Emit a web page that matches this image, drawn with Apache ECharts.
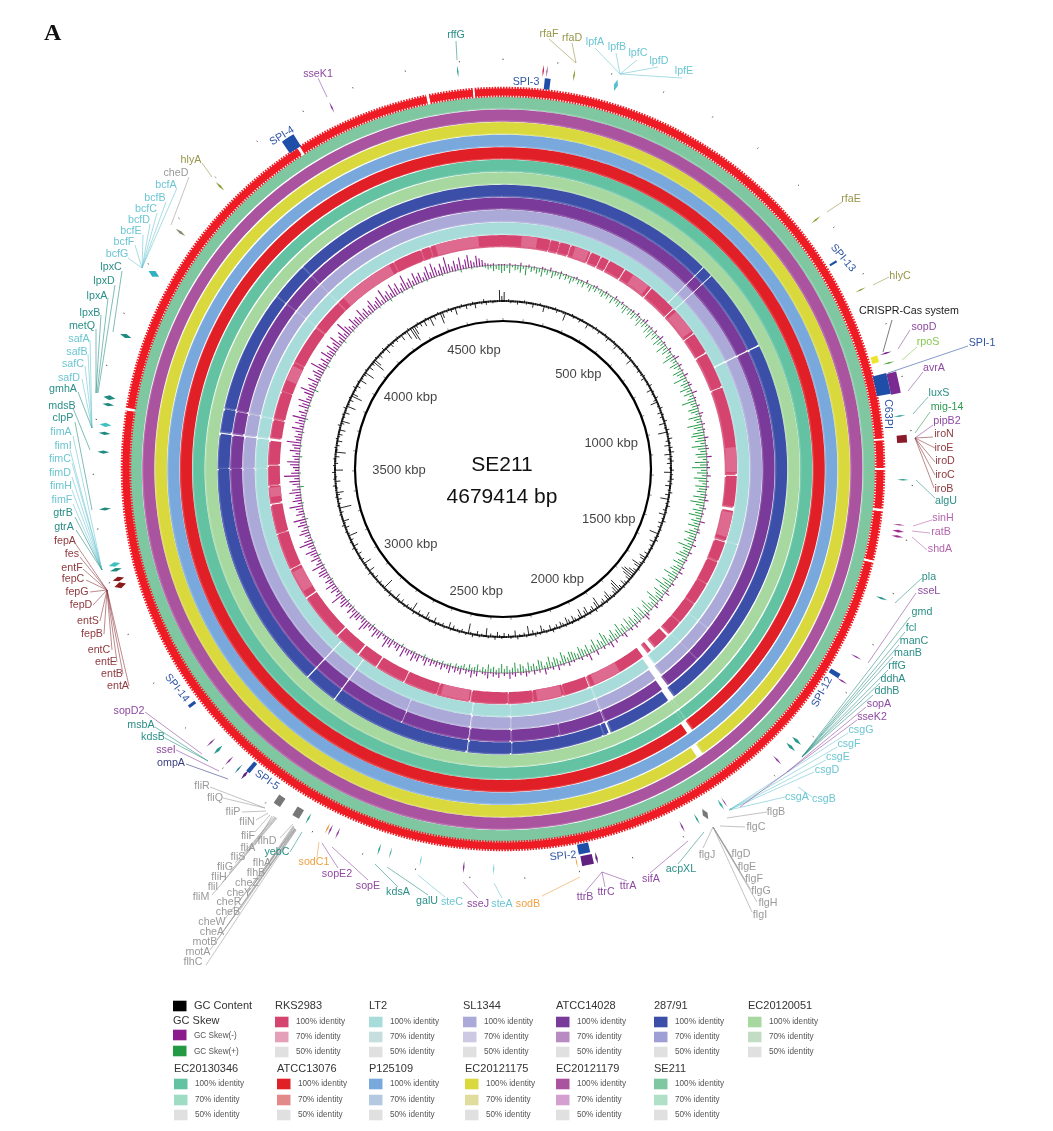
<!DOCTYPE html>
<html><head><meta charset="utf-8">
<style>html,body{margin:0;padding:0;background:#fff}#c{width:1053px;height:1131px;filter:blur(0.35px)}</style>
<script src="https://cdn.jsdelivr.net/npm/echarts@6/dist/echarts.min.js"></script>
</head><body><div id="c"></div>
<script>
const genomeKbp = 4679.414;
const tickKbp = [500,1000,1500,2000,2500,3000,3500,4000,4500];
const tickLabelRadius = [121,111,117,123,125,119,104,117,122];

const ringNames = ['SE211','EC20121179','EC20121175','P125109','ATCC13076','EC20130346','EC20120051','287/91','ATCC14028','SL1344','LT2','RKS2983'];
const ring100 = ['#7fc7a0','#aa539e','#d9d83c','#78a8dc','#e11f26','#63c2a2','#a6d8a0','#3c4fa8','#7a3a9a','#aba9d8','#a8dcdb','#d5446f'];
const ring70 = ['#b0e0c8','#d3a0d0','#dfdc9e','#b4c8e0','#e28a8a','#9edcc4','#c2ddc4','#9f9fd6','#b88bc3','#cdc9e2','#c6dedd','#e3a0b8'];

// white (no hit) regions, kbp
const gapsRedCds = [[1110,1114],[1168,1172],[1248,1253],[1350,1355],[3624,3630],[4255,4261],[4528,4534],[4620,4624]];
const gapsEC20121175 = [[1880,1898]];
const gapsATCC13076 = [[1868,1886]];
const gapsEC20130346 = [[1868,1872],[1878,1880]];
const gapsEC20120051 = [[1866,1869],[1875,1877]];
const gapsInnerShared = [[581,584],[611,614],[832,837],[2050,2056],[2314,2318],[2430,2435],[2808,2812],[2899,2903],[3510,3513],[3602,3609],[3668,3673],[3993,3997],[4096,4100]];
const gaps28791 = [[1855,1878],[2046,2050],[2067,2071]];
const gapsATCC14028 = [[1850,1874],[1745,1749],[2180,2183],[2620,2623]];
const gapsSL1344 = [[1846,1872],[1745,1748],[1660,1664],[2620,2623]];
const gapsLT2 = [[1842,1868],[1745,1748],[1660,1664],[1400,1404]];
const gapsRKS2983 = [[152,155],[182,185],[218,222],[286,290],[321,325],[350,354],[407,411],[510,514],[606,610],[708,712],[780,785],[900,905],[1185,1192],[1290,1304],[1400,1408],[1470,1476],[1550,1554],[1625,1630],[1700,1704],[1748,1762],[1810,1830],[1838,1862],[2052,2060],[2140,2144],[2240,2244],[2320,2324],[2440,2445],[2550,2553],[2660,2664],[2760,2765],[2830,2836],[2920,2925],[3075,3080],[3180,3184],[3300,3304],[3395,3402],[3455,3460],[3520,3526],[3600,3612],[3668,3674],[3760,3764],[3860,3864],[3990,3996],[4095,4100],[4315,4319],[4410,4414],[4441,4445]];
const lightRKS2983 = [[60,110],[235,280],[440,500],[620,700],[1100,1180],[1310,1390],[1950,2040],[2150,2230],[2450,2540],[3100,3170],[3420,3450],[3800,3850],[4120,4300],[4460,4600]];

// GC content deviation from the baseline, one value per 10 kbp window
const gcContent = [9,-1,2,-2,1,-1,-3,1,-1,2,-2,-1,1,-4,1,-1,2,-1,-6,1,-2,1,-1,2,-3,-1,1,-2,-8,1,-1,2,-2,1,-1,-3,2,-1,1,-5,-1,1,-2,2,-1,-3,1,-1,2,-2,-4,1,
-1,2,-2,-5,1,-1,2,-3,1,-2,-1,2,-6,1,-1,-2,2,-1,-3,1,-2,2,-4,-1,1,-2,3,-1,-5,2,-2,-1,3,-3,-7,1,-2,3,-1,-4,2,-3,-1,3,-6,1,-2,3,-9,2,-1,4,
-3,2,-5,3,-2,4,-6,2,-3,3,-4,1,-2,3,-7,2,-1,3,-3,2,-5,1,-2,3,-4,1,-8,2,-2,3,-1,-3,2,-6,1,-2,3,-4,1,-3,2,-1,-9,2,-2,3,-5,1,-3,2,-2,1,
-4,2,-7,-5,2,-3,-10,-6,2,-4,-8,-12,-14,-10,-5,2,-3,-6,2,-4,-13,-11,-7,-4,2,-3,-9,-6,2,-5,-3,2,-11,-7,3,-5,-3,2,-8,-5,2,-9,-4,2,-3,-6,2,-4,-7,2,-3,-5,
2,-4,-2,3,-5,-1,2,-3,-7,2,-2,3,-4,-1,-9,2,-3,1,-2,3,-6,-1,2,-3,1,-4,2,-2,-5,3,-1,-3,2,-8,1,-2,2,-4,-1,3,-2,-10,2,-1,-3,2,-2,1,-4,2,-6,-1,
2,-3,1,-2,3,-5,-1,2,-3,-7,1,-2,2,-4,-1,3,-9,-2,1,-3,2,-1,-4,2,-2,-6,1,-1,3,-3,-1,2,-11,-2,1,-3,2,-1,-4,1,-2,3,-6,-1,2,-2,-8,1,-3,2,-1,-4,
1,-2,3,-5,-1,2,-3,1,-9,-2,2,-1,-4,3,-2,-6,1,-1,2,-3,-1,-12,2,-2,1,-4,2,-3,-7,1,-2,3,-1,-5,2,-2,-1,3,-8,-1,2,-3,-1,2,-4,1,-10,-2,2,-3,1,-5,
2,-2,-4,1,-6,-1,3,-3,-8,1,-2,2,-5,-1,3,-9,-2,1,-4,2,-11,-6,1,-2,3,-4,-1,2,-7,-2,1,-3,-10,2,-1,-5,1,-3,-13,-8,2,-2,-4,1,-2,3,-6,-1,2,-4,-2,1,
-3,2,-1,-6,1,-2,-9,2,-12,-15,-9,-3,2,-4,-1,-6,2,-2,-9,1,-4,-1,2,-11,-6,1,-2,2,-3,-1,-7,1,-2,2,-1,-4,1,-2,2,-5,-1,1,-2,3,-3,-1,1,-2,-1,1,11,5];
const gcSkewMinus = [1,0,2,0,1,0,3,0,1,2,0,1,0,0,2,1,0,3,0,1,0,2,0,1,0,0,1,2,0,1,0,3,0,0,1,2,0,1,0,2,1,0,0,3,1,0,2,0,1,0,1,2,
0,3,1,0,2,4,0,1,2,0,3,0,1,4,0,2,1,0,3,1,0,2,5,0,1,3,0,2,0,4,1,0,2,3,0,1,5,0,2,1,0,3,1,0,4,2,0,1,3,0,2,1,
0,4,1,0,2,3,0,1,5,0,2,1,3,0,1,4,0,2,0,3,1,0,2,1,4,0,1,3,0,2,1,0,5,1,0,2,3,0,1,2,0,4,1,0,3,1,0,2,1,0,3,1,
4,0,2,1,0,3,1,0,2,5,0,1,3,0,2,4,0,1,0,3,6,1,0,2,1,4,0,3,1,0,5,2,0,1,4,0,6,2,0,3,1,0,5,1,0,7,2,0,3,1,0,2,
1,4,0,2,1,5,0,3,1,2,6,0,3,1,4,0,2,5,1,3,0,4,2,6,1,3,0,5,2,4,1,6,3,2,0,5,3,7,2,4,1,6,3,5,2,7,4,3,6,2,5,3,
6,3,8,4,2,7,5,9,3,6,4,10,2,7,5,3,8,6,11,4,2,7,5,9,3,6,4,8,12,5,3,7,6,10,4,8,3,5,9,7,4,13,6,3,8,5,10,4,7,3,6,9,
8,4,12,6,3,9,5,7,11,4,6,14,8,3,5,10,7,4,9,6,12,3,8,5,7,13,4,9,6,5,11,8,3,7,10,5,15,8,4,6,9,12,5,7,4,10,6,8,14,5,7,4,
7,11,4,9,6,13,5,8,3,10,7,12,5,4,9,14,6,8,5,11,4,7,10,6,15,8,5,9,4,12,7,6,11,5,8,13,4,7,10,5,16,9,6,4,11,7,8,5,12,6,9,4,
8,12,5,7,10,4,14,6,9,5,13,7,11,4,8,15,6,9,5,12,7,10,4,8,13,6,14,9,5,11,7,16,8,5,10,6,12,4,9,13,7,5,11,8,6,3,2,1,2,0,1,1];
const gcSkewPlus = [6,3,8,2,5,4,7,3,9,2,5,3,6,4,8,3,5,2,7,4,3,6,2,5,3,7,4,2,5,3,6,2,4,7,3,5,2,4,6,3,5,2,7,3,4,6,2,5,8,3,6,4,
7,3,5,9,4,6,3,8,5,10,4,7,3,9,6,4,11,5,8,3,7,12,5,4,9,6,3,10,7,5,13,4,8,6,11,5,9,4,7,14,6,5,10,8,4,12,7,5,15,9,6,11,
13,7,10,5,14,8,6,11,9,4,12,7,15,6,10,5,13,8,4,11,7,9,5,12,6,14,8,4,10,7,13,5,9,6,11,4,8,12,6,7,10,5,14,8,6,9,12,4,7,11,5,8,
10,6,14,8,5,11,7,16,9,4,12,8,6,15,10,5,7,13,9,4,11,6,14,8,5,10,7,12,4,9,6,13,8,5,11,7,4,10,14,6,9,5,12,7,4,10,6,8,11,5,7,9,
10,5,8,12,4,7,9,5,11,6,3,8,10,4,7,5,9,3,6,8,4,10,5,3,7,4,9,5,3,6,4,8,3,5,2,7,4,3,6,2,5,3,2,4,1,3,2,1,3,1,2,1,
2,0,1,3,0,1,0,2,1,0,0,1,3,0,1,0,2,0,1,0,1,2,0,0,1,3,0,1,0,1,2,0,1,0,0,2,1,0,3,0,1,0,2,0,1,0,0,1,2,0,1,0,
1,0,2,0,1,0,3,0,0,1,0,2,1,0,1,0,0,2,0,1,3,0,1,0,0,1,2,0,0,1,0,1,4,0,1,0,0,2,0,1,0,1,0,3,0,1,0,2,0,0,1,0,
2,0,1,0,1,3,0,0,1,0,2,0,1,0,1,0,4,0,1,0,2,0,0,1,0,1,3,0,1,0,0,2,0,1,0,1,0,3,0,0,1,0,2,0,1,0,1,0,0,2,0,1,
1,0,0,2,0,1,0,1,3,0,1,0,0,2,0,1,0,3,0,1,0,1,0,2,0,0,1,0,1,2,0,1,0,0,1,0,3,0,1,0,2,0,1,0,1,2,4,3,6,4,5,8];

// gene marks: [kbp position, extent in kbp, colour]
const geneMarks = [[4595,3,'#3aa89a'],[4350,3,'#8a3a9a'],[75,3,'#c03050'],[82,2,'#a03080'],[133,3,'#8a9a30'],[213,8,'#56c0d0'],
[4094,4,'#8a9a30'],[3981,5,'#8a8a70'],[3889,12,'#30b0c0'],[3762,8,'#1f8a80'],[3643,9,'#1f8a80'],[3630,6,'#1f8a80'],[3592,8,'#40c0c0'],[3576,6,'#1f8a80'],[3541,6,'#1f8a80'],[3435,6,'#1f8a80'],[3330,9,'#40c0c0'],[3320,7,'#1f8a80'],[3302,9,'#8b1a1a'],[3290,12,'#8b1a1a'],
[2949,3,'#8a3a9a'],[2930,6,'#2a9a90'],[2901,3,'#8a3a9a'],[2878,3,'#2a7a90'],[2862,5,'#602080'],[2781,14,'#777777'],[2740,14,'#777777'],[2718,3,'#2a9a90'],[2678,3,'#e89a30'],[2672,3,'#8a3a9a'],[2657,3,'#8a3a9a'],[2574,3,'#2a9a90'],[2552,2,'#2a9a90'],[2494,2,'#60c8d0'],
[2413,3,'#8a3a9a'],[2357,2,'#60c8d0'],[2202,2,'#f0a030'],[2182,22,'#602080'],[2164,4,'#602080'],[1994,3,'#8a3a9a'],[1963,3,'#2a9a90'],[1945,10,'#777777'],[1911,4,'#30b0a0'],[1903,2,'#8a3a9a'],
[1777,3,'#8a3a9a'],[1742,6,'#2a9a90'],[1726,6,'#2a9a90'],[1586,3,'#8a3a9a'],[1534,3,'#8a3a9a'],[1415,4,'#2a9a90'],[1274,3,'#b050a0'],[1286,5,'#a03090'],[1296,4,'#a03090'],[1190,3,'#2a9a90'],[1114,14,'#8b1a2a'],[1071,3,'#2a9a90'],[1009,40,'#7a2a90'],[970,3,'#50a030'],[951,3,'#7a2a90'],[824,3,'#8a9a30'],[669,3,'#8a9a30']];
// pathogenicity island blocks: [kbp position, extent in kbp, inner radius, outer radius]
const islandBlocks = [[85,11,382,393],[4250,26,381,395],[3027,6,386,394],[2861,8,384,396],[2184,22,383,393],[1581,9,384,395],[1007,40,381,395],[755,4,385,393]];
const crisprBlock = [[957,13,384,391]];

const colr = {gray:'#9a9a9a',cyan:'#6cc6d2',teal:'#2a8f86',red:'#8f3a3f',purple:'#8e4aa0',blue:'#2f55a5',olive:'#97954a',orange:'#f0a040',pink:'#b565ae',green:'#2f9a50',lime:'#86c850',dark:'#3a3f80',black:'#222222'};
// label text, centre x, centre y, colour, leader x1, y1, x2, y2
const annotations = [
['sseK1',318,74,'purple',318,78,327,97],['rffG',456,35,'teal',456,41,457,60],['rfaF',549,34,'olive',549,39,576,63],['rfaD',572,38,'olive',572,43,576,63],
['lpfA',595,42,'cyan',595,48,620,74],['lpfB',617,47,'cyan',616,53,620,74],['lpfC',638,53,'cyan',637,60,620,74],['lpfD',659,61,'cyan',658,67,620,74],['lpfE',684,71,'cyan',682,78,620,74],
['hlyA',191,160,'olive',202,163,212,177],['cheD',176,173,'gray',189,177,171,225],
['bcfA',166,185,'cyan',177,188,142,268],['bcfB',155,198,'cyan',166,202,142,268],['bcfC',146,209,'cyan',157,213,142,268],['bcfD',139,220,'cyan',150,224,142,268],['bcfE',131,231,'cyan',143,235,142,268],['bcfF',124,242,'cyan',135,245,142,268],['bcfG',117,254,'cyan',128,258,142,268],
['lpxC',111,267,'teal',122,271,113,332],['lpxD',104,281,'teal',115,285,98,393],['lpxA',97,296,'teal',108,298,97,393],['lpxB',90,313,'teal',101,315,96,393],['metQ',82,326,'teal',96,329,96,393],
['safA',79,339,'cyan',90,340,92,428],['safB',77,352,'cyan',88,354,92,428],['safC',73,364,'cyan',85,366,92,428],['safD',69,378,'cyan',82,379,92,428],['gmhA',63,389,'teal',78,392,92,428],['mdsB',62,406,'teal',73,408,90,450],['clpP',63,418,'teal',75,422,92,510],
['fimA',61,432,'cyan',73,436,102,570],['fimI',63,446,'cyan',70,450,102,570],['fimC',60,459,'cyan',72,463,102,570],['fimD',60,473,'cyan',72,477,102,570],['fimH',61,486,'cyan',72,490,102,570],['fimF',62,500,'cyan',73,504,102,570],['gtrB',63,513,'teal',75,517,102,570],['gtrA',64,527,'teal',76,530,102,570],
['fepA',65,541,'red',75,543,107,590],['fes',72,554,'red',80,557,107,590],['entF',72,568,'red',83,569,107,590],['fepC',73,579,'red',86,580,107,590],['fepG',77,592,'red',90,592,107,590],['fepD',81,605,'red',93,605,107,590],['entS',88,621,'red',100,621,107,590],['fepB',92,634,'red',104,634,107,590],['entC',99,650,'red',112,650,107,590],['entE',106,662,'red',117,662,107,590],['entB',112,674,'red',123,674,107,590],['entA',118,686,'red',129,686,107,590],
['sopD2',129,711,'purple',145,712,202,754],['msbA',141,725,'teal',155,727,208,761],['kdsB',153,737,'teal',165,738,208,761],['sseI',166,750,'purple',176,750,219,771],['ompA',171,763,'dark',186,764,228,779],
['fliR',202,786,'gray',210,787,265,808],['fliQ',215,798,'gray',223,798,265,808],['fliP',233,812,'gray',242,812,266,811],['fliN',247,822,'gray',256,820,268,813],['fliF',248,836,'gray',255,832,270,815],['fliA',248,848,'gray',255,845,272,816],['fliS',238,857,'gray',246,853,274,816],['fliG',225,867,'gray',235,863,275,817],['fliH',219,877,'gray',229,873,276,817],['fliI',213,887,'gray',222,883,276,818],['fliM',201,897,'gray',212,895,277,818],
['flhD',267,841,'gray',280,838,293,824],['flhA',262,863,'gray',270,860,293,826],['flhB',256,873,'gray',264,870,294,826],['cheZ',247,883,'gray',258,880,294,827],['cheY',239,893,'gray',250,890,294,828],['cheR',229,902,'gray',240,900,295,828],['cheB',228,912,'gray',240,910,295,829],['cheW',212,922,'gray',224,920,295,829],['cheA',212,932,'gray',224,930,295,829],['motB',205,942,'gray',217,940,296,829],['motA',198,952,'gray',210,950,296,830],['flhC',193,962,'gray',206,965,296,830],
['yebC',277,852,'teal',290,852,302,832],['sodC1',314,862,'orange',317,857,319,842],['sopE2',337,874,'purple',338,868,322,843],['sopE',368,886,'purple',368,880,332,847],['kdsA',398,892,'teal',398,887,375,864],['galU',427,901,'teal',428,895,387,867],['steC',452,902,'cyan',445,897,418,875],['sseJ',478,904,'purple',478,898,463,882],['steA',502,904,'cyan',502,898,494,883],['sodB',528,904,'orange',542,896,580,877],
['ttrB',585,897,'purple',585,892,602,872],['ttrC',606,892,'purple',605,887,602,872],['ttrA',628,886,'purple',627,881,602,872],['sifA',651,879,'purple',650,873,688,841],['acpXL',681,869,'teal',678,864,704,832],['flgJ',707,855,'gray',703,848,713,827],
['flgD',741,854,'gray',732,857,713,827],['flgE',747,867,'gray',738,868,713,827],['flgF',754,879,'gray',745,880,713,827],['flgG',761,891,'gray',751,890,713,827],['flgH',768,903,'gray',757,902,713,827],['flgI',760,915,'gray',752,912,713,827],['flgB',776,812,'gray',767,812,727,818],['flgC',756,827,'gray',745,827,720,826],
['csgA',797,797,'cyan',785,797,729,810],['csgB',824,799,'cyan',812,797,798,787],['csgD',827,770,'cyan',814,772,729,810],['csgE',838,757,'cyan',826,760,729,810],['csgF',849,744,'cyan',837,747,729,810],['csgG',861,730,'cyan',848,733,729,810],
['sseK2',872,717,'purple',857,720,740,807],['sopA',879,704,'purple',866,707,787,772],['ddhB',887,691,'teal',873,695,802,757],['ddhA',893,679,'teal',880,683,802,757],['rffG',897,666,'teal',888,670,802,757],['manB',908,653,'teal',893,657,802,757],['manC',914,641,'teal',899,645,802,757],['fcl',911,628,'teal',905,632,802,757],['gmd',922,612,'teal',910,617,802,757],['sseL',929,591,'purple',916,593,868,663],['pla',929,577,'teal',922,578,895,603],
['rfaE',851,199,'olive',842,202,827,212],['hlyC',900,276,'olive',889,277,873,285],['CRISPR-Cas system',909,311,'black',892,320,883,352],['sopD',924,327,'purple',910,330,898,349],['rpoS',928,342,'lime',917,347,902,360],['SPI-1',982,343,'blue',968,346,888,373],['avrA',934,368,'purple',923,372,908,391],
['luxS',939,393,'teal',928,397,913,414],['mig-14',947,407,'green',930,412,915,433],['pipB2',947,421,'purple',933,425,915,438],['iroN',944,434,'red',933,437,915,438],['iroE',944,448,'red',935,448,915,438],['iroD',945,461,'red',935,462,915,438],['iroC',945,475,'red',935,475,915,438],['iroB',944,489,'red',934,488,915,438],['algU',946,501,'teal',935,498,916,480],['sinH',943,518,'pink',932,520,913,526],['ratB',941,532,'pink',930,533,912,531],['shdA',940,549,'pink',927,550,912,537]];
// rotated island names: text, x, y, degrees clockwise
const islandLabels = [['SPI-3',526,82,0],['SPI-4',282,136,-32],['SPI-14',177,688,52],['SPI-5',267,780,35],['SPI-2',563,856,-6],['SPI-12',822,692,-62],['SPI-13',843,258,50],['C63PI',888,414,90]];

const legendRow1 = ['RKS2983','LT2','SL1344','ATCC14028','287/91','EC20120051'];
const legendRow2 = ['EC20130346','ATCC13076','P125109','EC20121175','EC20121179','SE211'];
const legendX1 = [275,369,463,556,654,748];
const legendX2 = [174,277,369,465,556,654];

const cx = 503, cy = 469;
const ringOuter = 372, ringStep = 12.55, ringWidth = 10.8;

function arc(api, r, a0, a1){
  const n = Math.max(1, Math.ceil(Math.abs(a1-a0)/10)), pts = [];
  for(let i=0;i<=n;i++) pts.push(api.coord([r, a0+(a1-a0)*i/n]));
  return pts;
}
function band(api, rIn, rOut, a0, a1){
  return arc(api, rOut, a0, a1).concat(arc(api, rIn, a1, a0));
}
function complement(gaps){
  const g = gaps.slice().sort((p,q)=>p[0]-q[0]), out = [];
  let s = 0;
  g.forEach(x=>{ if(x[0]>s) out.push([s,x[0]]); s = Math.max(s,x[1]); });
  if(s<genomeKbp) out.push([s,genomeKbp]);
  return out;
}
const ringGaps = [[],[],gapsEC20121175,[],gapsATCC13076,gapsEC20130346,gapsEC20120051,
  gaps28791.concat(gapsInnerShared),gapsATCC14028.concat(gapsInnerShared),gapsSL1344.concat(gapsInnerShared),gapsLT2.concat(gapsInnerShared),gapsRKS2983];
const ringSegs = [];
ringNames.forEach((n,i)=>{
  complement(ringGaps[i]).forEach(s=>ringSegs.push({i, a0:s[0], a1:s[1]}));
});
// light pink blocks, clipped to the parts of the ring that have hits
const lightSegs = [];
lightRKS2983.forEach(l=>{
  complement(gapsRKS2983).forEach(s=>{
    const a0 = Math.max(l[0],s[0]), a1 = Math.min(l[1],s[1]);
    if(a1>a0) lightSegs.push({a0,a1});
  });
});

function polarCustom(name, rows, render, z){
  return {type:'custom', name, coordinateSystem:'polar', polarIndex:1, clip:false, silent:true, z:z||2,
    animation:false, data:rows.map((r,i)=>[0,i]), renderItem:(p,api)=>render(rows[p.dataIndex],api,p.dataIndex)};
}
const binKbp = genomeKbp/gcContent.length;
const spike = (base, color, width, sign, baseColor, baseWidth) => (v,api,i)=>{
  const a = (i+0.5)*binKbp, p0 = api.coord([base,a]), p1 = api.coord([base+sign*v,a]);
  const kids = [{type:'line', shape:{x1:p0[0],y1:p0[1],x2:p1[0],y2:p1[1]}, style:{stroke:color,lineWidth:width}}];
  if(baseColor){
    const s = api.coord([base,i*binKbp]), e = api.coord([base,(i+1)*binKbp]);
    kids.push({type:'line', shape:{x1:s[0],y1:s[1],x2:e[0],y2:e[1]}, style:{stroke:baseColor,lineWidth:baseWidth}});
  }
  return {type:'group',children:kids};
};
const leaf = (row,api)=>{
  const k=row[0], w=row[1];
  const pts = w>=14 ? band(api,395,405,k-w/2,k+w/2) :
    [api.coord([394,k]),api.coord([400,k-w/2]),api.coord([406,k]),api.coord([400,k+w/2])];
  return {type:'polygon',shape:{points:pts},style:{fill:row[2]}};
};

const series = [
  polarCustom('Identity shading', ringSegs, (s,api)=>{
    const rO = ringOuter-s.i*ringStep;
    return {type:'polygon',x:-1.4,y:1.4,shape:{points:band(api,rO-ringWidth,rO,s.a0,s.a1)},
      style:{fill:echarts.color.lift(ring100[s.i],0.18)}};
  },2),
  polarCustom('Identity rings', ringSegs, (s,api)=>{
    const rO = ringOuter-s.i*ringStep;
    return {type:'polygon',shape:{points:band(api,rO-ringWidth,rO,s.a0,s.a1)},style:{fill:ring100[s.i]}};
  },3),
  polarCustom('RKS2983 70%', lightSegs, (s,api)=>{
    const rO = ringOuter-11*ringStep;
    return {type:'polygon',shape:{points:band(api,rO-ringWidth,rO,s.a0,s.a1)},style:{fill:'#df6a90'}};
  },4),
  polarCustom('CDS core', complement(gapsRedCds), (s,api)=>({type:'polygon',shape:{points:band(api,373.5,380.5,s[0],s[1])},style:{fill:'#ee1c25'}}),3),
  polarCustom('CDS teeth', complement(gapsRedCds), (s,api)=>({type:'polyline',shape:{points:arc(api,377,s[0],s[1])},style:{fill:'none',stroke:'#ee1c25',lineWidth:10.5,lineDash:[1.6,1.2]}}),3),
  polarCustom('GC Skew(+)', gcSkewPlus, spike(204,'#229a44',1,-1,'#7a7a7a',0.9),5),
  polarCustom('GC Skew(-)', gcSkewMinus, spike(204,'#8b1a8c',1.1,1),6),
  polarCustom('GC Content', gcContent, spike(168,'#111',0.9,1,'#111',2),5),
  polarCustom('Genes', geneMarks, leaf,4),
  polarCustom('Islands', islandBlocks, (b,api)=>({type:'polygon',shape:{points:band(api,b[2],b[3],b[0]-b[1]/2,b[0]+b[1]/2)},style:{fill:'#1f4ea8'}}),4),
  polarCustom('CRISPR', crisprBlock, (b,api)=>({type:'polygon',shape:{points:band(api,b[2],b[3],b[0]-b[1]/2,b[0]+b[1]/2)},style:{fill:'#ece42e'}}),4),
  {type:'scatter',name:'Ticks',coordinateSystem:'polar',polarIndex:1,symbolSize:0,silent:true,animation:false,z:7,
   data:tickKbp.map((k,i)=>[tickLabelRadius[i],k]),
   label:{show:true,position:'inside',formatter:p=>tickKbp[p.dataIndex]+' kbp',fontFamily:'Liberation Sans',fontSize:13,color:'#111'}}
];

const g = [];
const font = '"Liberation Sans"';
function text(t,x,y,size,fill,rot){
  g.push({type:'text',x,y,rotation:(rot||0)*-Math.PI/180,silent:true,z:20,
    style:{text:t,fontSize:size,fontFamily:font,fill,align:'center',verticalAlign:'middle'}});
}
g.push({type:'text',x:44,y:22,silent:true,z:20,style:{text:'A',fontFamily:'"Liberation Serif"',fontWeight:'bold',fontSize:24,fill:'#111'}});
text('SE211',502,465,21,'#111');
text('4679414 bp',502,497,21,'#111');
annotations.forEach(a=>{
  const col = colr[a[3]];
  g.push({type:'line',silent:true,z:19,shape:{x1:a[4],y1:a[5],x2:a[6],y2:a[7]},style:{stroke:col,lineWidth:0.7,opacity:0.85}});
  text(a[0],a[1],a[2],10.7,col);
});
islandLabels.forEach(a=>text(a[0],a[1],a[2],10.7,colr.blue,a[3]));

function swatch(x,yc,c){ g.push({type:'rect',silent:true,z:20,shape:{x,y:yc-5.3,width:13.5,height:10.6},style:{fill:c}}); }
function small(t,x,y){ g.push({type:'text',silent:true,z:20,x,y,style:{text:t,fontFamily:font,fontSize:8.2,fill:'#555',verticalAlign:'middle'}}); }
function head(t,x,y){ g.push({type:'text',silent:true,z:20,x,y,style:{text:t,fontFamily:font,fontSize:11,fill:'#333',verticalAlign:'middle'}}); }
swatch(173,1006,'#000');head('GC Content',194,1006);
head('GC Skew',173,1021);
swatch(173,1035,'#8b1a8c');small('GC Skew(-)',194,1036);
swatch(173,1051,'#229a44');small('GC Skew(+)',194,1052);
function legendCol(name,x,yT,ys){
  const i = ringNames.indexOf(name);
  head(name,x,yT);
  swatch(x,ys[0],ring100[i]);small('100% identity',x+21,ys[0]);
  swatch(x,ys[1],ring70[i]);small('70% identity',x+21,ys[1]);
  swatch(x,ys[2],'#e0e0e0');small('50% identity',x+21,ys[2]);
}
legendRow1.forEach((n,i)=>legendCol(n,legendX1[i],1006,[1022,1037,1052]));
legendRow2.forEach((n,i)=>legendCol(n,legendX2[i],1069,[1084,1100,1115]));

const angle = (idx,extra)=>Object.assign({type:'value',polarIndex:idx,min:0,max:genomeKbp,interval:100,startAngle:90,clockwise:true,
  splitLine:{show:false},axisLabel:{show:false},minorTick:{show:false}},extra);
const option = {
  animation:false,
  polar:[{center:[cx,cy],radius:[0,148]},{center:[cx,cy],radius:[0,420]},{center:[cx,cy],radius:[0,409]}],
  angleAxis:[
    angle(0,{axisLine:{show:true,lineStyle:{color:'#000',width:2.2}},axisTick:{show:true,length:3,lineStyle:{color:'#555',width:0.7}},z:8}),
    angle(1,{axisLine:{show:false},axisTick:{show:false}}),
    angle(2,{axisLine:{show:false},axisTick:{show:true,length:1.4,lineStyle:{color:'#555',width:1}}})
  ],
  radiusAxis:[
    {polarIndex:0,type:'value',min:0,max:148,show:false},
    {polarIndex:1,type:'value',min:0,max:420,show:false},
    {polarIndex:2,type:'value',min:0,max:409,show:false}
  ],
  series,
  graphic:{elements:g}
};
echarts.init(document.getElementById('c'),null,{renderer:'canvas'}).setOption(option);
</script></body></html>
